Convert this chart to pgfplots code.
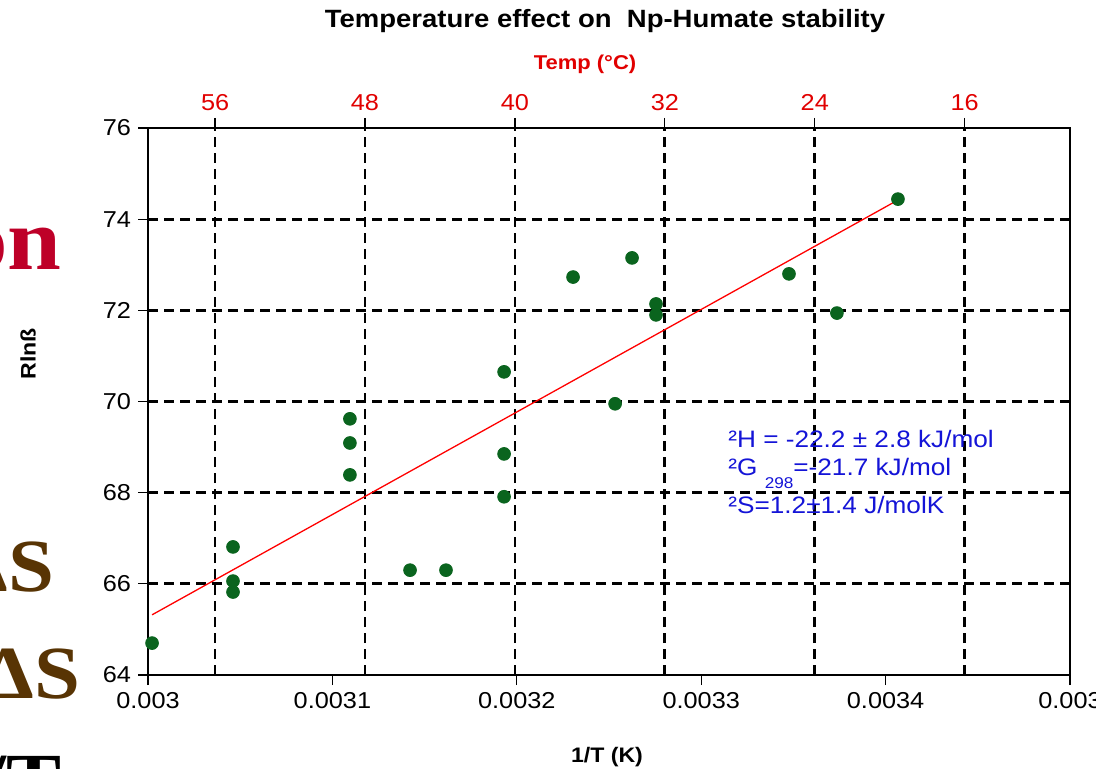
\documentclass[border=0pt]{standalone}
\usepackage{pgfplots}
\pgfplotsset{compat=1.18}
\usepackage{fontspec}
\setmainfont{Liberation Sans}[FakeStretch=1.1]
\newfontfamily\slideserif{Liberation Serif}[FakeStretch=1.1]
\definecolor{ptgreen}{RGB}{10,100,30}
\definecolor{annblue}{RGB}{20,20,215}
\definecolor{topred}{RGB}{225,0,0}
\definecolor{slidered}{RGB}{190,0,40}
\definecolor{slidebrown}{RGB}{88,52,4}
\pgfplotsset{
  gridd/.style={black, line width=1.35pt, dash pattern=on 5pt off 3pt},
}
\begin{document}
\begin{tikzpicture}
% top temperature axis (linear in degrees C) with the vertical grid
\begin{axis}[
  at={(74pt,-337.5pt)}, anchor=south west,
  scale only axis, width=461pt, height=273.5pt,
  xmin=10.38, xmax=59.58, x dir=reverse,
  ymin=64, ymax=76,
  axis x line*=top, axis y line=none,
  xtick={16,24,32,40,48,56},
  xmajorgrids, major grid style=gridd,
  tick align=outside, major tick length=5pt,
  axis line style={black, line width=0.6pt},
  every tick/.style={black, line width=0.6pt},
  xticklabel style={text=topred, font=\fontsize{11.5}{12}\selectfont},
  /pgf/number format/assume math mode=true,
]
\addplot[draw=none, forget plot] coordinates {(20,70)};
\end{axis}
% main axis
\begin{axis}[
  at={(74pt,-337.5pt)}, anchor=south west,
  scale only axis, width=461pt, height=273.5pt,
  xmin=0.003, xmax=0.0035, ymin=64, ymax=76,
  scaled x ticks=false,
  xtick={0.003,0.0031,0.0032,0.0033,0.0034,0.0035},
  xticklabels={0.003,0.0031,0.0032,0.0033,0.0034,0.003},
  ytick={64,66,68,70,72,74,76},
  xtick pos=bottom, ytick pos=left,
  ymajorgrids, major grid style=gridd,
  tick align=outside, major tick length=5pt,
  axis line style={black, line width=0.6pt},
  every tick/.style={black, line width=0.6pt},
  ticklabel style={font=\fontsize{11.5}{12}\selectfont},
  /pgf/number format/assume math mode=true,
  clip=false,
]
\addplot[red, line width=0.65pt] coordinates {(0.0030022,65.32) (0.0034067,74.42)};
\addplot[only marks, mark=*, mark size=3.2pt, color=ptgreen, mark options={fill=ptgreen, draw=ptgreen}] coordinates {
(0.0030022,64.70)
(0.0030461,66.81)
(0.0030461,66.06)
(0.0030461,65.82)
(0.0031095,69.62)
(0.0031095,69.09)
(0.0031095,68.39)
(0.0031421,66.30)
(0.0031616,66.30)
(0.0031931,70.65)
(0.0031931,68.85)
(0.0031931,67.91)
(0.0032305,72.73)
(0.0032533,69.95)
(0.0032625,73.15)
(0.0032755,72.14)
(0.0032755,71.90)
(0.0033476,72.80)
(0.0033736,71.94)
(0.0034067,74.44)
};
\end{axis}
% titles and labels
\node[anchor=base, inner sep=0pt, font=\bfseries\fontsize{12.5}{14}\selectfont] at (302.5pt,-14pt) {Temperature effect on\ \ Np-Humate stability};
\node[anchor=base, inner sep=0pt, text=topred, font=\bfseries\fontsize{10}{12}\selectfont] at (292.5pt,-35pt) {Temp (°C)};
\node[anchor=base, inner sep=0pt, font=\bfseries\fontsize{10.5}{12}\selectfont] at (303.5pt,-381pt) {1/T (K)};
\node[rotate=90, inner sep=0pt, font=\bfseries\fontsize{10.5}{12}\selectfont] at (14pt,-177pt) {Rlnß};
% annotation
\node[anchor=base west, inner sep=0pt, text=annblue, font=\fontsize{11.9}{13}\selectfont] at (364pt,-223.5pt) {²H = -22.2 ± 2.8 kJ/mol};
\node[anchor=base west, inner sep=0pt, text=annblue, font=\fontsize{11.9}{13}\selectfont] at (364pt,-237.5pt) {²G \raisebox{-6.5pt}{\fontsize{7.8}{8}\selectfont 298}=-21.7 kJ/mol};
\node[anchor=base west, inner sep=0pt, text=annblue, font=\fontsize{11.9}{13}\selectfont] at (364pt,-256.5pt) {²S=1.2±1.4 J/molK};
% fragments of the slide behind the chart
\node[anchor=base east, inner sep=0pt, text=slidered, font=\slideserif\bfseries\fontsize{44}{50}\selectfont] at (31pt,-135pt) {on};
\node[anchor=base east, inner sep=0pt, text=slidebrown, font=\slideserif\bfseries\fontsize{37.5}{40}\selectfont] at (27.5pt,-295.5pt) {ΔS};
\node[anchor=base east, inner sep=0pt, text=slidebrown, font=\slideserif\bfseries\fontsize{37.5}{40}\selectfont] at (40.5pt,-349pt) {ΔS};
\node[anchor=base east, inner sep=0pt, text=black, font=\slideserif\bfseries\fontsize{37.5}{40}\selectfont] at (31pt,-402.5pt) {/T};
\pgfresetboundingbox
\path[use as bounding box] (0pt,0pt) rectangle (548pt,-384.5pt);
\end{tikzpicture}
\end{document}
